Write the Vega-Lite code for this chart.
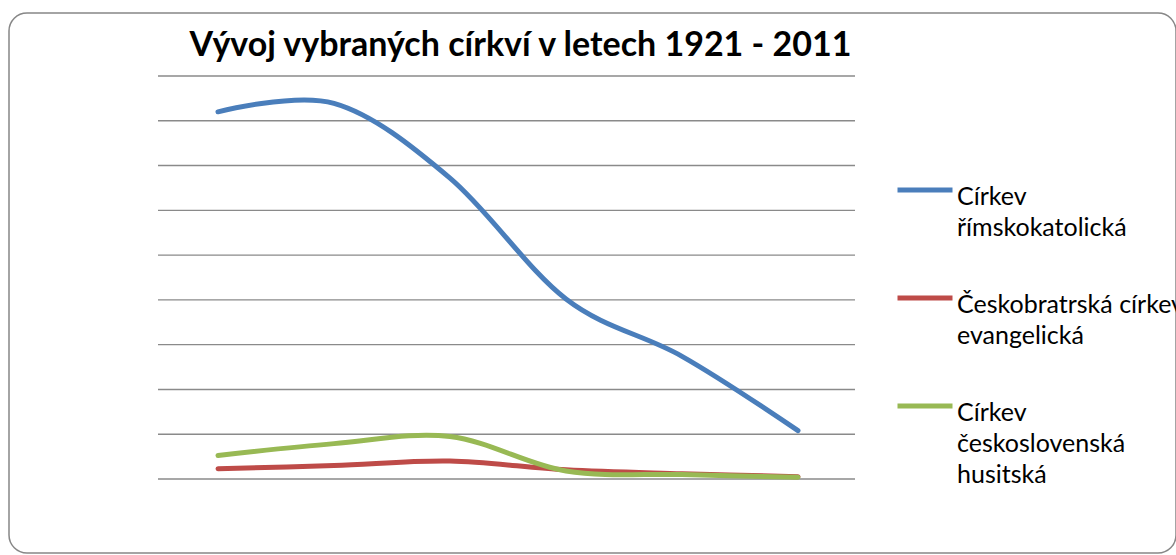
{
  "$schema": "https://vega.github.io/schema/vega-lite/v6.json",
  "autosize": {"type": "none"},
  "width": 1167,
  "height": 540,
  "padding": {"left": 9, "top": 13, "right": 0, "bottom": 2},
  "background": "white",
  "title": {
    "text": "Vývoj vybraných církví v letech 1921 - 2011",
    "anchor": "middle",
    "orient": "top",
    "offset": 0,
    "baseline": "alphabetic",
    "dy": 77,
    "dx": -72,
    "font": "Lato",
    "fontSize": 34,
    "fontWeight": "bold",
    "color": "#000000"
  },
  "config": {
    "view": {"stroke": "#878787", "strokeWidth": 1.5, "cornerRadius": 18, "fill": "white"},
    "style": {"guide-label": {"lineHeight": 31}}
  },
  "layer": [
    {
      "data": {"values": [
        {"grid": 0}, {"grid": 1000000}, {"grid": 2000000}, {"grid": 3000000}, {"grid": 4000000},
        {"grid": 5000000}, {"grid": 6000000}, {"grid": 7000000}, {"grid": 8000000}, {"grid": 9000000}
      ]},
      "mark": {"type": "rule", "stroke": "#8a8a8a", "strokeWidth": 1.4},
      "encoding": {
        "y": {"field": "grid", "type": "quantitative", "scale": {"domain": [0, 9000000], "range": [466, 63], "nice": false, "zero": true}, "axis": null},
        "x": {"datum": 0, "type": "quantitative", "scale": {"domain": [0, 1], "range": [149, 846]}, "axis": null},
        "x2": {"datum": 1}
      }
    },
    {
      "data": {"values": [
        {"year": "1921", "church": "Církev římskokatolická", "members": 8200000},
        {"year": "1930", "church": "Církev římskokatolická", "members": 8390000},
        {"year": "1950", "church": "Církev římskokatolická", "members": 6720000},
        {"year": "1991", "church": "Církev římskokatolická", "members": 4020000},
        {"year": "2001", "church": "Církev římskokatolická", "members": 2740000},
        {"year": "2011", "church": "Církev římskokatolická", "members": 1080000},
        {"year": "1921", "church": "Českobratrská církev evangelická", "members": 230000},
        {"year": "1930", "church": "Českobratrská církev evangelická", "members": 300000},
        {"year": "1950", "church": "Českobratrská církev evangelická", "members": 400000},
        {"year": "1991", "church": "Českobratrská církev evangelická", "members": 204000},
        {"year": "2001", "church": "Českobratrská církev evangelická", "members": 117000},
        {"year": "2011", "church": "Českobratrská církev evangelická", "members": 52000},
        {"year": "1921", "church": "Církev československá husitská", "members": 525000},
        {"year": "1930", "church": "Církev československá husitská", "members": 790000},
        {"year": "1950", "church": "Církev československá husitská", "members": 950000},
        {"year": "1991", "church": "Církev československá husitská", "members": 178000},
        {"year": "2001", "church": "Církev československá husitská", "members": 99000},
        {"year": "2011", "church": "Církev československá husitská", "members": 39000}
      ]},
      "mark": {"type": "line", "interpolate": "cardinal", "strokeWidth": 5, "strokeCap": "round", "strokeJoin": "round"},
      "encoding": {
        "x": {"field": "year", "type": "ordinal", "scale": {"type": "point", "range": [209, 789], "padding": 0}, "axis": null},
        "y": {"field": "members", "type": "quantitative", "scale": {"domain": [0, 9000000], "range": [466, 63], "nice": false, "zero": true}, "axis": null},
        "color": {
          "field": "church",
          "type": "nominal",
          "scale": {
            "domain": ["Církev římskokatolická", "Českobratrská církev evangelická", "Církev československá husitská"],
            "range": ["#4A7EBB", "#BE4B48", "#98B954"]
          },
          "legend": {
            "orient": "none",
            "legendX": 886,
            "legendY": 147,
            "title": null,
            "symbolType": "stroke",
            "symbolSize": 3025,
            "symbolStrokeWidth": 5,
            "labelOffset": 2,
            "labelFont": "Lato",
            "labelFontSize": 25,
            "labelLimit": 400,
            "labelBaseline": "alphabetic",
            "rowPadding": 68,
            "labelExpr": "''"
          }
        },
        "opacity": {
          "field": "church",
          "type": "nominal",
          "sort": ["Církev římskokatolická", "Českobratrská církev evangelická", "Církev československá husitská"],
          "scale": {"range": [1, 1, 1]},
          "legend": {
            "orient": "none",
            "legendX": 886,
            "legendY": 161.5,
            "title": null,
            "symbolType": "stroke",
            "symbolSize": 3025,
            "symbolStrokeWidth": 5,
            "symbolOpacity": 0,
            "symbolStrokeColor": "#ffffff",
            "labelOffset": 2,
            "labelFont": "Lato",
            "labelFontSize": 25,
            "labelColor": "#000000",
            "labelLimit": 400,
            "labelBaseline": "alphabetic",
            "rowPadding": 42,
            "labelExpr": "datum.label == 'Církev římskokatolická' ? ['Církev', 'římskokatolická'] : datum.label == 'Českobratrská církev evangelická' ? ['Českobratrská církev', 'evangelická'] : ['Církev', 'československá', 'husitská']"
          }
        }
      }
    }
  ],
  "resolve": {"scale": {"x": "independent"}}
}
